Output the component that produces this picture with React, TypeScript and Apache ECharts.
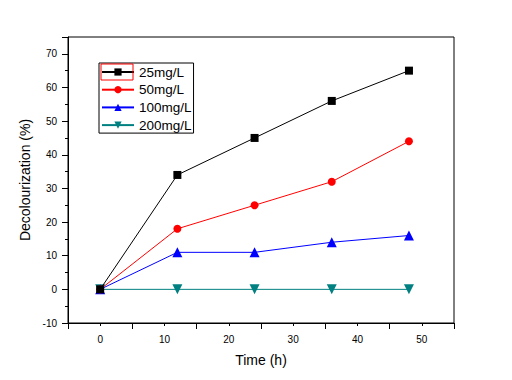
import React, { useEffect, useRef } from "react";
import * as echarts from "echarts";

const times = [0, 12, 24, 36, 48];
const s25 = [0, 34, 45, 56, 65];
const s50 = [0, 18, 25, 32, 44];
const s100 = [0, 11, 11, 14, 16];
const s200 = [0, 0, 0, 0, 0];
const seriesNames = ["25mg/L", "50mg/L", "100mg/L", "200mg/L"];
const colors = ["#000000", "#ff0000", "#0000ff", "#008080"];

const FONT = "Liberation Sans, Arial, sans-serif";

export default function App() {
  const ref = useRef<HTMLDivElement>(null);
  useEffect(() => {
    document.body.style.margin = "0";
    if (!ref.current) return;
    const chart = echarts.init(ref.current, undefined, { renderer: "svg" });
    const pair = (arr: number[]) => arr.map((v, i) => [times[i], v]);
    const symbols = ["rect", "circle", "triangle", "triangle"];
    const sizes = [8, 8, 10, 10];
    const rot = [0, 0, 0, 180];
    const data = [s25, s50, s100, s200];
    chart.setOption({
      animation: false,
      backgroundColor: "#ffffff",
      grid: {
        left: 68,
        right: 58,
        top: 37,
        bottom: 57,
        show: true,
        borderColor: "#000",
        borderWidth: 1,
      },
      legend: {
        orient: "vertical",
        left: 99,
        top: 63,
        padding: [2, 2, 1, 2],
        itemWidth: 32,
        itemHeight: 9,
        itemGap: 3.7,
        borderColor: "#000",
        borderWidth: 1,
        data: seriesNames,
        textStyle: { fontFamily: FONT, fontSize: 13.5, lineHeight: 14, color: "#000" },
      },
      xAxis: {
        type: "value",
        min: -5,
        max: 55,
        interval: 10,
        axisLine: { onZero: false, lineStyle: { color: "#000", width: 1 } },
        axisTick: { show: true, length: 6, lineStyle: { color: "#000" } },
        minorTick: { show: true, splitNumber: 2, length: 3, lineStyle: { color: "#000" } },
        splitLine: { show: false },
        axisLabel: {
          fontFamily: FONT,
          fontSize: 10,
          color: "#000",
          margin: 11,
          customValues: [0, 10, 20, 30, 40, 50],
        },
        name: "Time (h)",
        nameLocation: "middle",
        nameGap: 30,
        nameTextStyle: { fontFamily: FONT, fontSize: 14, color: "#000" },
      },
      yAxis: {
        type: "value",
        min: -10,
        max: 75,
        interval: 10,
        axisLine: { show: true, onZero: false, lineStyle: { color: "#000", width: 1 } },
        axisTick: { show: true, length: 6, lineStyle: { color: "#000" } },
        minorTick: { show: true, splitNumber: 2, length: 3, lineStyle: { color: "#000" } },
        splitLine: { show: false },
        axisLabel: {
          fontFamily: FONT,
          fontSize: 10,
          color: "#000",
          margin: 11,
          showMaxLabel: false,
        },
        name: "Decolourization (%)",
        nameLocation: "middle",
        nameGap: 34,
        nameTextStyle: { fontFamily: FONT, fontSize: 14, color: "#000" },
      },
      series: seriesNames.map((n, i) => ({
        name: n,
        type: "line",
        data: pair(data[i]),
        color: colors[i],
        symbol: symbols[i],
        symbolSize: sizes[i],
        symbolRotate: rot[i],
        showAllSymbol: true,
        lineStyle: { width: 1, color: colors[i] },
        itemStyle: { color: colors[i] },
        z: 10 - i,
      })),
      graphic: [
        {
          type: "rect",
          shape: { x: 101, y: 64, width: 32, height: 16 },
          style: { fill: "none", stroke: "#ff0000", lineWidth: 1 },
          z: 100,
        },
      ],
    });
    return () => chart.dispose();
  }, []);
  return <div ref={ref} style={{ width: 512, height: 380 }} />;
}
